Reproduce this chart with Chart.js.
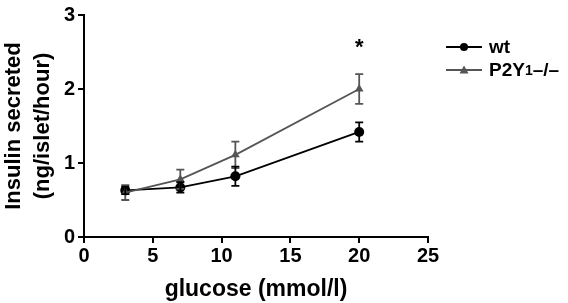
<!DOCTYPE html>
<html>
<head>
<meta charset="utf-8">
<script src="https://cdn.jsdelivr.net/npm/chart.js@4"></script>
<style>
  html, body { margin: 0; padding: 0; background: #fff; }
  #wrap { position: relative; width: 568px; height: 303px; }
  #legend { position: absolute; left: 446px; top: 35px; font-family: "Liberation Sans", Arial, sans-serif; font-weight: bold; font-size: 19px; color: #000; }
  .row { height: 23px; display: flex; align-items: center; white-space: nowrap; }
  .swatch { width: 36px; height: 12px; margin-right: 7px; }
  sub { font-size: 14px; vertical-align: -5px; }
</style>
</head>
<body>
<div id="wrap">
  <canvas id="chart" width="568" height="303"></canvas>
  <div id="legend">
    <div class="row"><canvas class="swatch" id="sw-wt" width="36" height="12"></canvas>wt</div>
    <div class="row"><canvas class="swatch" id="sw-ko" width="36" height="12"></canvas>P2Y<sub>1</sub>&ndash;/&ndash;</div>
  </div>
</div>
<script>
// glucose concentrations (mmol/l)
const glucose = [3, 7, 11, 20];
// insulin secreted (ng/islet/hour)
const wtMean = [0.63, 0.67, 0.82, 1.42];
const wtErr = [0.05, 0.07, 0.13, 0.13];
const koMean = [0.60, 0.78, 1.11, 2.00];
const koErr = [0.10, 0.13, 0.18, 0.20];
// significance marker
const starX = 20;
const starY = 2.55;

const xTicks = [0, 5, 10, 15, 20, 25];
const yTicks = [0, 1, 2, 3];

const wtColor = '#000000';
const koColor = '#555555';
const font = '"Liberation Sans", Arial, sans-serif';

//..error bars drawn through the scales
const errorBars = {
    id: 'errorBars',
    afterDatasetsDraw(chart) {
        const ctx = chart.ctx;
        const xs = chart.scales.x;
        const ys = chart.scales.y;
        chart.data.datasets.forEach(ds => {
            ctx.save();
            ctx.strokeStyle = ds.borderColor;
            ctx.lineWidth = 1.8;
            ds.data.forEach((p, i) => {
                const px = xs.getPixelForValue(p.x);
                const top = ys.getPixelForValue(p.y + ds.errors[i]);
                const bot = ys.getPixelForValue(p.y - ds.errors[i]);
                ctx.beginPath();
                ctx.moveTo(px, top); ctx.lineTo(px, bot);
                ctx.moveTo(px - 4, top); ctx.lineTo(px + 4, top);
                ctx.moveTo(px - 4, bot); ctx.lineTo(px + 4, bot);
                ctx.stroke();
            });
            ctx.restore();
        });
        // asterisk
        ctx.save();
        ctx.fillStyle = '#000';
        ctx.font = 'bold 22px ' + font;
        ctx.textAlign = 'center';
        ctx.textBaseline = 'middle';
        ctx.fillText('*', xs.getPixelForValue(starX), ys.getPixelForValue(starY));
        ctx.restore();
    }
};

function toPoints(xs, ys) {
    return xs.map((x, i) => ({ x: x, y: ys[i] }));
}

new Chart(document.getElementById('chart'), {
    type: 'line',
    data: {
        datasets: [{
            label: 'P2Y1-/-',
            data: toPoints(glucose, koMean),
            errors: koErr,
            borderColor: koColor,
            backgroundColor: koColor,
            borderWidth: 1.8,
            pointStyle: 'triangle',
            pointRadius: 5,
            pointBorderWidth: 0
        }, {
            label: 'wt',
            data: toPoints(glucose, wtMean),
            errors: wtErr,
            borderColor: wtColor,
            backgroundColor: wtColor,
            borderWidth: 1.8,
            pointStyle: 'circle',
            pointRadius: 5,
            pointBorderWidth: 0
        }]
    },
    options: {
        responsive: false,
        animation: false,
        layout: { padding: { left: 0, right: 140, top: 8, bottom: 0 } },
        scales: {
            x: {
                type: 'linear',
                min: 0, max: 25,
                afterBuildTicks: s => { s.ticks = xTicks.map(v => ({ value: v })); },
                afterFit: s => { s.height = 66; },
                border: { color: '#000', width: 2 },
                grid: { display: true, drawOnChartArea: false, drawTicks: true, tickLength: 6, color: '#000', lineWidth: 2 },
                ticks: { color: '#000', font: { family: font, size: 20, weight: 'bold' }, padding: 1, maxRotation: 0 },
                title: { display: true, text: 'glucose (mmol/l)', color: '#000', font: { family: font, size: 23, weight: 'bold' }, padding: { top: 1, bottom: 0 } }
            },
            y: {
                min: 0, max: 3,
                afterBuildTicks: s => { s.ticks = yTicks.map(v => ({ value: v })); },
                afterFit: s => { s.width = 84; },
                border: { color: '#000', width: 2 },
                grid: { display: true, drawOnChartArea: false, drawTicks: true, tickLength: 6, color: '#000', lineWidth: 2 },
                ticks: { color: '#000', font: { family: font, size: 20, weight: 'bold' }, padding: 3 },
                title: { display: true, text: ['Insulin secreted', '(ng/islet/hour)'], color: '#000', font: { family: font, size: 22, weight: 'bold', lineHeight: 1.3 }, padding: { top: 0, bottom: 2 } }
            }
        },
        plugins: {
            legend: { display: false },
            tooltip: { enabled: false }
        }
    },
    plugins: [errorBars]
});

//..legend swatches
function drawSwatch(id, color, style) {
    const c = document.getElementById(id).getContext('2d');
    c.strokeStyle = color;
    c.fillStyle = color;
    c.lineWidth = 1.8;
    c.beginPath(); c.moveTo(0, 6); c.lineTo(36, 6); c.stroke();
    c.beginPath();
    if (style === 'circle') {
        c.arc(18, 6, 4, 0, Math.PI * 2);
    } else {
        c.moveTo(18, 1.5); c.lineTo(22.5, 9.5); c.lineTo(13.5, 9.5); c.closePath();
    }
    c.fill();
}
drawSwatch('sw-wt', wtColor, 'circle');
drawSwatch('sw-ko', koColor, 'triangle');
</script>
</body>
</html>
